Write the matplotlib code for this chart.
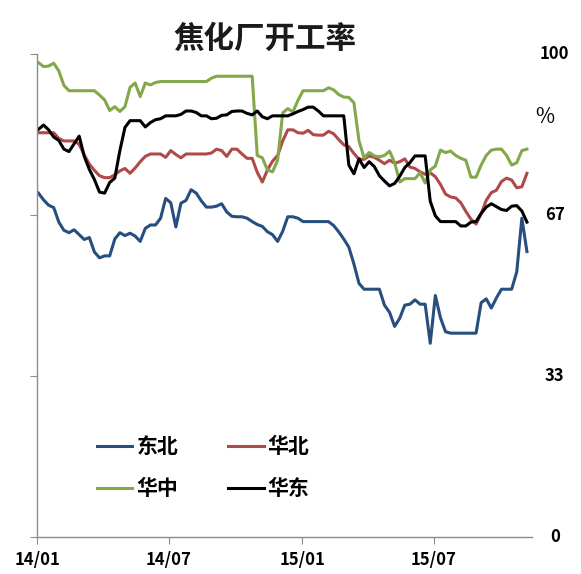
import numpy as np
import pandas as pd
import matplotlib
matplotlib.use('Agg')

import matplotlib.pyplot as plt
import matplotlib.dates as mdates

plt.rcParams['font.family'] = ['Noto Sans CJK SC', 'DejaVu Sans']

# weekly readings, start of 2014 to early November 2015 (percent)
weeks = pd.date_range('2014-01-03', periods=97, freq='7D')

dongbei = [71.2, 69.8, 68.7, 68.2, 65.2, 63.5, 63.0, 63.6, 62.6, 61.6,
           62.0, 59.0, 57.8, 58.2, 58.2, 61.7, 63.0, 62.4, 62.9, 62.3,
           61.2, 63.9, 64.6, 64.6, 66.0, 70.1, 69.2, 64.2, 69.1, 69.7,
           71.9, 71.2, 69.6, 68.3, 68.3, 68.5, 69.0, 67.3, 66.4, 66.3,
           66.3, 66.0, 65.3, 64.7, 64.3, 63.2, 62.6, 61.2, 63.3, 66.3,
           66.3, 66.0, 65.3, 65.3, 65.3, 65.3, 65.3, 65.3, 64.5, 63.2,
           61.7, 60.0, 56.5, 52.5, 51.3, 51.3, 51.3, 51.3, 48.0, 46.5,
           43.6, 45.3, 48.0, 48.2, 49.1, 48.2, 48.2, 40.1, 50.0, 45.4,
           42.5, 42.2, 42.2, 42.2, 42.2, 42.2, 42.2, 48.5, 49.3, 47.4,
           49.5, 51.3, 51.3, 51.3, 54.9, 66.0, 59.1]

huabei = [83.7, 83.7, 83.7, 83.7, 82.5, 82.0, 82.0, 82.0, 81.3, 79.1,
          77.2, 75.9, 74.8, 74.4, 74.4, 75.0, 75.8, 76.3, 75.3, 76.4,
          77.7, 78.8, 79.3, 79.3, 79.3, 78.6, 80.0, 79.2, 78.5, 79.3,
          79.3, 79.3, 79.3, 79.3, 79.5, 80.3, 80.0, 78.8, 80.3, 80.3,
          79.3, 78.4, 78.4, 75.5, 73.5, 76.0, 77.8, 79.0, 82.0, 84.3,
          84.3, 83.7, 83.6, 84.2, 83.3, 83.2, 83.2, 84.0, 83.5, 82.3,
          81.2, 80.8, 79.4, 78.2, 78.2, 78.9, 78.6, 78.0, 77.3, 78.0,
          77.4, 77.7, 78.3, 76.6, 76.3, 75.6, 75.1, 75.4, 74.6, 73.0,
          71.0, 70.4, 70.2, 69.2, 67.4, 65.8, 64.8, 66.9, 69.7, 71.3,
          71.8, 73.6, 74.3, 73.9, 72.3, 72.5, 75.3]

huazhong = [98.2, 97.4, 97.5, 98.1, 96.5, 93.5, 92.4, 92.4, 92.4, 92.4,
            92.4, 92.4, 91.5, 90.5, 88.3, 89.1, 88.1, 89.1, 93.1, 94.0,
            91.2, 94.0, 93.6, 94.1, 94.3, 94.3, 94.3, 94.3, 94.3, 94.3,
            94.3, 94.3, 94.3, 94.3, 95.0, 95.4, 95.4, 95.4, 95.4, 95.4,
            95.4, 95.4, 95.4, 79.0, 78.5, 76.0, 75.6, 78.0, 87.8, 88.7,
            88.0, 90.4, 92.4, 92.4, 92.4, 92.4, 92.4, 93.0, 92.6, 91.6,
            91.1, 91.0, 89.9, 82.0, 78.5, 79.6, 78.9, 78.7, 79.0, 79.9,
            77.5, 73.5, 74.2, 74.2, 74.2, 75.4, 73.3, 76.0, 76.8, 80.1,
            79.6, 79.9, 79.0, 78.4, 78.0, 74.5, 74.5, 77.0, 79.0, 80.1,
            80.3, 80.3, 79.0, 77.0, 77.5, 80.0, 80.3]

huadong = [84.4, 85.3, 84.3, 82.8, 82.1, 80.3, 79.8, 81.4, 83.0, 78.8,
           76.1, 74.0, 71.4, 71.2, 73.4, 74.3, 80.0, 84.8, 86.2, 86.2,
           86.2, 84.9, 85.8, 86.4, 86.6, 87.2, 87.2, 87.2, 87.5, 88.2,
           88.2, 87.9, 87.2, 87.2, 86.6, 86.7, 87.3, 87.4, 88.1, 88.2,
           88.2, 87.7, 87.4, 88.2, 87.0, 86.6, 87.2, 87.2, 87.2, 87.2,
           87.6, 88.1, 88.5, 89.0, 89.0, 88.2, 87.2, 87.2, 87.2, 87.2,
           87.2, 77.0, 75.2, 78.3, 76.5, 77.7, 76.7, 74.8, 73.7, 72.7,
           73.2, 74.7, 76.5, 77.5, 78.9, 78.9, 78.9, 69.5, 66.5, 65.3,
           65.3, 65.3, 65.3, 64.4, 64.4, 65.2, 65.3, 67.0, 68.3, 69.0,
           68.4, 67.8, 67.6, 68.5, 68.6, 67.5, 65.2]

series_names = ['东北', '华北', '华中', '华东']
series_colors = ['#264E7E', '#B04A48', '#82A84A', '#000000']

tick_dates = ['2014-01-01', '2014-07-01', '2015-01-01', '2015-07-01']
tick_labels = ['14/01', '14/07', '15/01', '15/07']
y_ticks = [0, 100 / 3., 200 / 3., 100]
y_labels = ['0', '33', '67', '100']


def main():
    fig = plt.figure(figsize=(5.81, 5.74), dpi=100)
    ax = fig.add_axes([0.0637, 0.0645, 0.852, 0.8414])

    lines = {}
    for name, values, color in zip(series_names, [dongbei, huabei, huazhong, huadong], series_colors):
        lines[name], = ax.plot(weeks, values, color=color, lw=2.2, label=name)

    ax.set_ylim(0, 100)
    ax.set_xlim(pd.Timestamp('2014-01-01'), pd.Timestamp('2015-11-13'))

    # only left and bottom axis lines, grey like excel
    for side in ['top', 'right']:
        ax.spines[side].set_visible(False)
    for side in ['left', 'bottom']:
        ax.spines[side].set_color('#8c8c8c')
        ax.spines[side].set_linewidth(1.0)

    ax.set_xticks([pd.Timestamp(d) for d in tick_dates])
    ax.set_xticklabels(tick_labels, fontweight='bold', fontsize=12)
    ax.tick_params(axis='x', direction='out', length=5, color='#8c8c8c', pad=5)

    ax.set_yticks(y_ticks)
    ax.set_yticklabels([])
    ax.tick_params(axis='y', direction='out', length=5, color='#8c8c8c')

    # value labels sit on the right, without an axis line
    for value, label in zip(y_ticks, y_labels):
        ax.text(1.046, value, label, transform=ax.get_yaxis_transform(),
                ha='center', va='center', fontsize=12, fontweight='bold')
    ax.text(1.026, 87.0, '%', transform=ax.get_yaxis_transform(),
            ha='center', va='center', fontsize=15)

    fig.text(0.456, 0.932, '焦化厂开工率', ha='center', va='center',
             fontsize=22, fontweight='bold', color='#1a1a1a')

    order = ['东北', '华中', '华北', '华东']
    ax.legend([lines[n] for n in order], order, ncol=2, loc='upper left',
              bbox_to_anchor=(0.121, 0.209), frameon=False, borderpad=0,
              borderaxespad=0, handlelength=1.7, handletextpad=0.2,
              columnspacing=2.4, labelspacing=1.0,
              prop={'size': 15, 'weight': 'bold'})

    fig.savefig('out.png', dpi=100)


if __name__ == "__main__":
    main()
